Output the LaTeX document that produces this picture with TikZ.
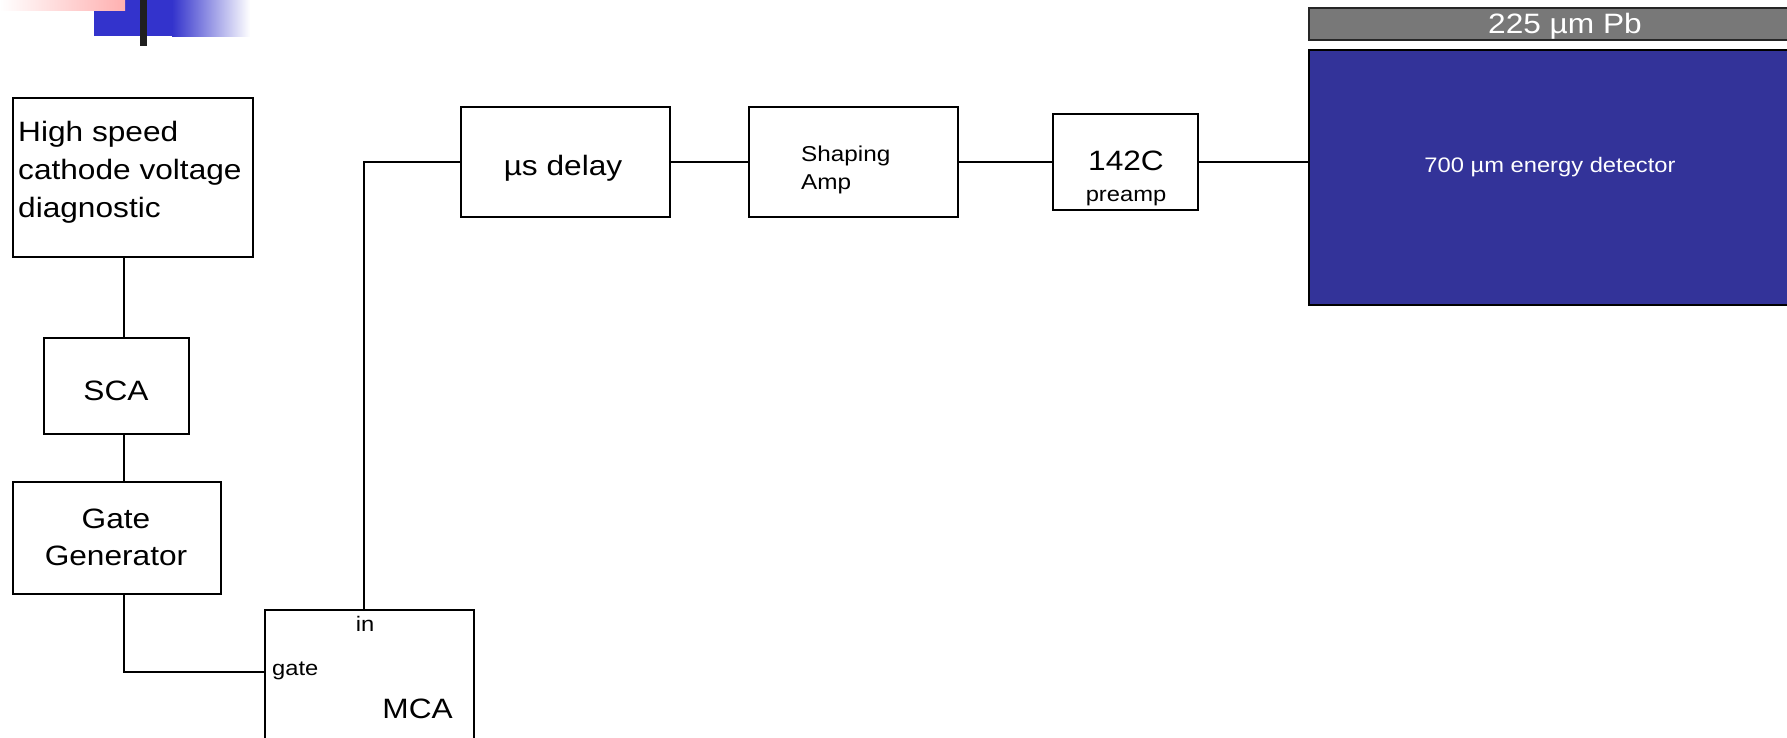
\documentclass[tikz,border=0pt]{standalone}
\usepackage{fontspec}
\setmainfont{Liberation Sans}[FakeStretch=1.13]
\usetikzlibrary{calc}
\definecolor{detblue}{HTML}{333399}
\definecolor{decoblue}{HTML}{3333CC}
\definecolor{decopink}{HTML}{FFB0B0}
\definecolor{pbgray}{HTML}{787878}
\begin{document}
\begin{tikzpicture}[x=1pt,y=-1pt,
  box/.style={draw=black, fill=white, rectangle, inner sep=0pt, anchor=north west, line width=1.8pt},
  lbl/.style={inner sep=0pt, font=\fontsize{28}{38}\selectfont},
  sml/.style={inner sep=0pt, font=\fontsize{21}{28}\selectfont},
  wire/.style={draw=black, line width=1.9pt}]
\clip (0,0) rectangle (1787,737);
\fill[white] (0,0) rectangle (1787,737);
% decoration top-left
\fill[decoblue] (94,0) rectangle (173,36);
\shade[left color=decoblue, right color=white] (172,0) rectangle (250,36);
\shade[left color=white, right color=decopink] (0,0) rectangle (125,10);
\fill[black!88] (140,0) rectangle (147,46);
% boxes
\node[box, minimum width=240, minimum height=159] (hs) at (12,97) {};
\node[box, minimum width=145, minimum height=96] (sca) at (43,337) {};
\node[box, minimum width=208, minimum height=112] (gate) at (12,481) {};
\node[box, minimum width=209, minimum height=160] (mca) at (264,609) {};
\node[box, minimum width=209, minimum height=110] (delay) at (460,106) {};
\node[box, minimum width=209, minimum height=110] (shape) at (748,106) {};
\node[box, minimum width=145, minimum height=96] (pre) at (1052,113) {};
\node[box, fill=detblue, minimum width=520, minimum height=255] (det) at (1308,49) {};
\node[box, fill=pbgray, draw=black!85, line width=1.5pt, minimum width=520, minimum height=32] (pb) at (1308,7) {};
% texts
\node[lbl, anchor=north west, align=left] (hstxt) at (18,121) {High speed\\cathode voltage\\diagnostic};
\node[lbl, anchor=base] (scatxt) at (116,400) {SCA};
\node[lbl, align=center, font=\fontsize{28}{37}\selectfont] (gatetxt) at (116,537) {Gate\\Generator};
\node[sml, anchor=base] (intxt) at (365,631) {in};
\node[sml, anchor=base west] (gatein) at (272,675) {gate};
\node[lbl, anchor=base east] (mcatxt) at (453,718) {MCA};
\node[lbl, anchor=base] (delaytxt) at (563,175) {µs delay};
\node[inner sep=0pt, anchor=north west, align=left, font=\fontsize{21.5}{28}\selectfont] (shapetxt) at (801,146) {Shaping\\Amp};
\node[lbl, anchor=base] (pretxt) at (1126,170) {142C};
\node[sml, anchor=base] (pretxtb) at (1126,201) {preamp};
\node[lbl, white, anchor=base] (pbtxt) at (1565,33) {225 µm Pb};
\node[sml, white, anchor=base] (dettxt) at (1550,172) {700 µm energy detector};
% connectors
\coordinate (vx) at (124,0);
\coordinate (gy) at (0,672);
\coordinate (ix) at (364,0);
\draw[wire] (hs.south -| vx) -- (sca.north -| vx);
\draw[wire] (sca.south -| vx) -- (gate.north -| vx);
\draw[wire] (gate.south -| vx) |- (mca.west |- gy);
\draw[wire] (mca.north -| ix) |- (delay.west);
\draw[wire] (delay.east) -- (shape.west);
\draw[wire] (shape.east) -- (pre.west);
\draw[wire] (pre.east) -- (pre.east -| det.west);
\end{tikzpicture}
\end{document}
